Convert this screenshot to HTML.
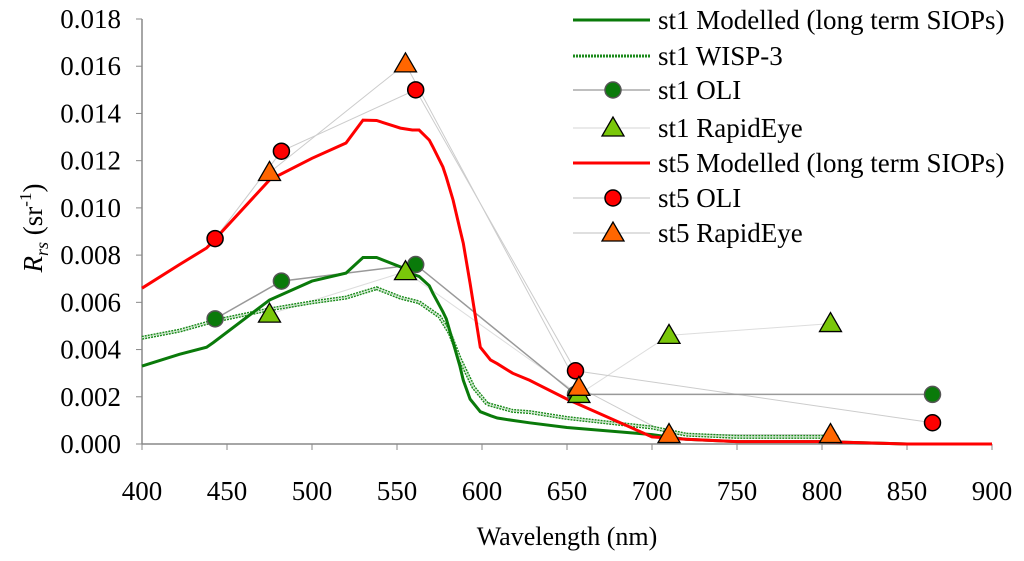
<!DOCTYPE html>
<html><head><meta charset="utf-8"><style>
body{margin:0;background:#fff;}
svg{display:block;font-family:"Liberation Serif",serif;}
</style></head><body>
<svg id="c" width="1024" height="561" viewBox="0 0 1024 561"></svg>
<script>
const wlModel=[400,422,438,442,475,500,520,530,538,552,559,563,569,571,577,579,583,587,589,593,599,605,609,618,628,650,700,720,750,800,850,870,900];
const st1Model=[0.0033,0.0038,0.0041,0.0043,0.0061,0.0069,0.00724,0.0079,0.0079,0.0075,0.0072,0.0071,0.0067,0.0064,0.0056,0.0053,0.0043,0.0033,0.0027,0.0019,0.00137,0.0012,0.0011,0.001,0.0009,0.0007,0.0004,0.0002,0.0001,0.0001,0.0,0.0,null];
const st5Model=[0.0066,0.0076,0.0083,0.0086,0.01118,0.0121,0.01275,0.01372,0.0137,0.01338,0.0133,0.0133,0.01287,0.0126,0.01173,0.0113,0.01033,0.0091,0.0085,0.0068,0.0041,0.00356,0.0034,0.003,0.0027,0.0019,0.0003,0.0002,0.0001,0.0001,0.0,0.0,0.0];
const wlWisp=[400,422,442,475,500,520,538,552,563,575,581,587,595,603,618,628,650,700,720,750,800,810];
const st1Wisp=[0.0045,0.0048,0.0052,0.0057,0.006,0.0062,0.0066,0.0062,0.006,0.0054,0.0047,0.0036,0.0024,0.0017,0.0014,0.00135,0.0011,0.0007,0.0004,0.0003,0.0003,0.0003];
const oliWl=[443,482,561,655,865];
const st1Oli=[0.0053,0.0069,0.0076,0.0021,0.0021];
const st5Oli=[0.0087,0.0124,0.015,0.0031,0.0009];
const reWl=[475,555,657,710,805];
const st1Re=[0.0055,0.0073,0.0021,0.0046,0.0051];
const st5Re=[0.0115,0.0161,0.0024,0.0004,0.0004];
const xTicks=[400,450,500,550,600,650,700,750,800,850,900];
const yTicks=[0,0.002,0.004,0.006,0.008,0.010,0.012,0.014,0.016,0.018];

const svg=document.getElementById('c');const NS='http://www.w3.org/2000/svg';
const X=v=>142+(v-400)*1.7, Y=v=>444-v/0.018*425;
function el(t,a,p){const e=document.createElementNS(NS,t);for(const k in a)e.setAttribute(k,a[k]);(p||svg).appendChild(e);return e;}
function pts(xs,ys){return xs.map((x,i)=>ys[i]==null?null:X(x).toFixed(1)+','+Y(ys[i]).toFixed(1)).filter(Boolean).join(' ');}
let ax=el('line',{x1:142,y1:19,x2:142,y2:444,stroke:'#888','stroke-width':1.5});

let ax2=el('line',{x1:142,y1:444,x2:992,y2:444,stroke:'#888','stroke-width':1.5});

yTicks.forEach(v=>{el('line',{x1:136,x2:142,y1:Y(v),y2:Y(v),stroke:'#888'});
 const t=el('text',{x:121,y:Y(v)+9,'text-anchor':'end','font-size':27});t.textContent=v.toFixed(3);
 });
xTicks.forEach(v=>{el('line',{x1:X(v),x2:X(v),y1:444,y2:450,stroke:'#888'});
 const t=el('text',{x:X(v),y:500,'text-anchor':'middle','font-size':27});t.textContent=v;
 });
let xt=el('text',{x:567,y:545,'text-anchor':'middle','font-size':26});xt.textContent='Wavelength (nm)';

let yt=el('text',{transform:'translate(42,228) rotate(-90)','text-anchor':'middle','font-size':27});
yt.innerHTML='<tspan font-style="italic">R</tspan><tspan font-style="italic" font-size="18" dy="6">rs</tspan><tspan dy="-6">  (sr</tspan><tspan font-size="17" dy="-11">-1</tspan><tspan dy="11">)</tspan>';

function conn(xs,ys,c,w,name){const l=el('polyline',{points:pts(xs,ys),fill:'none',stroke:c,'stroke-width':w});}
conn(reWl,st1Re,'#ddd',1,'st1-rapideye-line');
conn(reWl,st5Re,'#ccc',1,'st5-rapideye-line');
conn(oliWl,st5Oli,'#ccc',1,'st5-oli-line');
conn(oliWl,st1Oli,'#999',1.5,'st1-oli-line');
let w1=el('polyline',{points:pts(wlWisp,st1Wisp),fill:'none',stroke:'#1a8a1a','stroke-width':4,'stroke-dasharray':'2 1'});

el('polyline',{points:pts(wlWisp,st1Wisp),fill:'none',stroke:'#cfe8cf','stroke-width':1.2});
let m1=el('polyline',{points:pts(wlModel,st1Model),fill:'none',stroke:'#0a7a0a','stroke-width':3});

let m5=el('polyline',{points:pts(wlModel,st5Model),fill:'none',stroke:'#ff0000','stroke-width':3});

function circ(cx,cy,f,s,name){const c=el('circle',{cx,cy,r:8,fill:f,stroke:s,'stroke-width':1.5});}
function tri(cx,cy,f,name){const p=el('polygon',{points:`${cx},${cy-11} ${cx-11},${cy+8} ${cx+11},${cy+8}`,fill:f,stroke:'#000','stroke-width':1.3});}
oliWl.forEach((w,i)=>circ(X(w),Y(st1Oli[i]),'#0a7a0a','#555','st1-oli-point'));
reWl.forEach((w,i)=>tri(X(w),Y(st1Re[i]),'#7ac70a','st1-rapideye-point'));
oliWl.forEach((w,i)=>circ(X(w),Y(st5Oli[i]),'#ff0000','#000','st5-oli-point'));
reWl.forEach((w,i)=>tri(X(w),Y(st5Re[i]),'#ff6600','st5-rapideye-point'));
const leg=[['st1 Modelled (long term SIOPs)','line','#0a7a0a'],['st1 WISP-3','wisp','#1a8a1a'],['st1 OLI','circ','#0a7a0a','#999','#555'],['st1 RapidEye','tri','#7ac70a','#ddd'],['st5 Modelled (long term SIOPs)','line','#ff0000'],['st5 OLI','circ','#ff0000','#ccc','#000'],['st5 RapidEye','tri','#ff6600','#ccc']];
const ly=[20,56,90,128,163,198,233];
leg.forEach((L,i)=>{const g=el('g',{});
 const y=ly[i];
 if(L[1]=='line')el('line',{x1:573,x2:650,y1:y,y2:y,stroke:L[2],'stroke-width':3},g);
 else if(L[1]=='wisp')el('line',{x1:573,x2:650,y1:y,y2:y,stroke:L[2],'stroke-width':3,'stroke-dasharray':'2 1'},g);
 else{el('line',{x1:573,x2:650,y1:y,y2:y,stroke:L[3],'stroke-width':1.2},g);
  if(L[1]=='circ')el('circle',{cx:613,cy:y,r:8,fill:L[2],stroke:L[4],'stroke-width':1.5},g);
  else el('polygon',{points:`613,${y-11} 602,${y+8} 624,${y+8}`,fill:L[2],stroke:'#000','stroke-width':1.3},g);}
 const t=el('text',{x:658,y:y+9,'font-size':27},g);t.textContent=L[0];});
</script>
</body></html>
